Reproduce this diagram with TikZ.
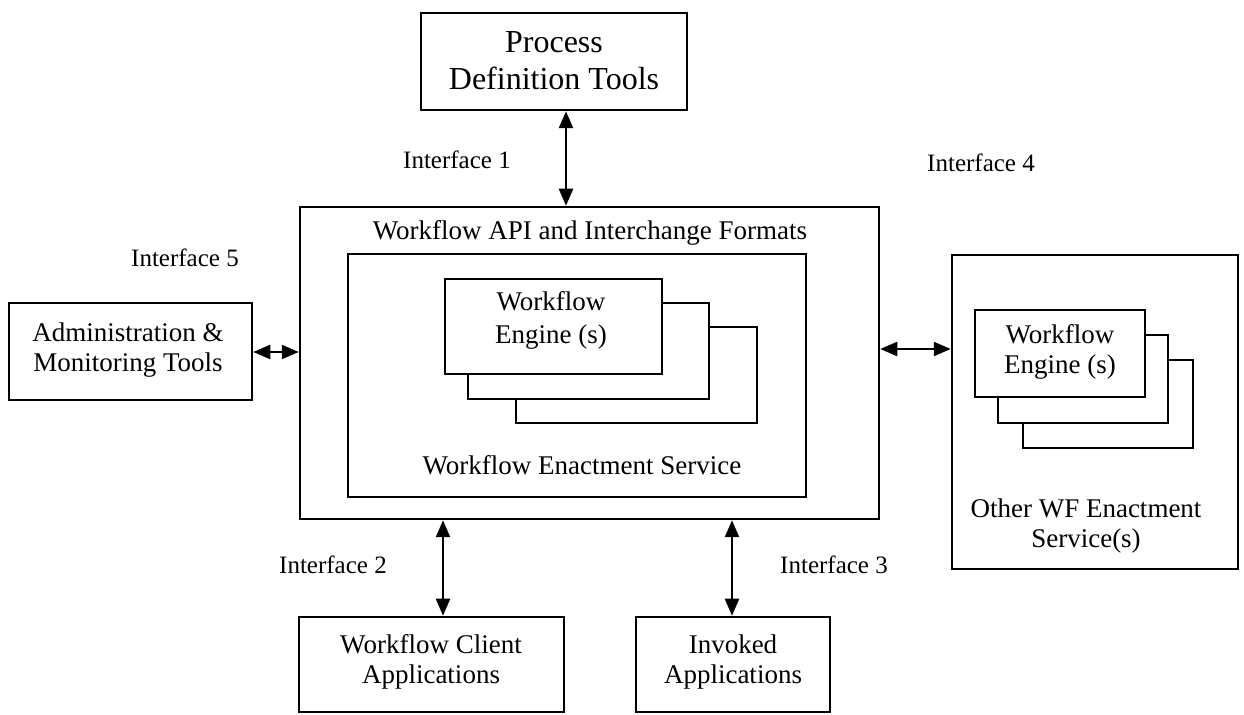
\documentclass[tikz,border=0pt]{standalone}
\usepackage{fontspec}
\setmainfont{Liberation Serif}
\usetikzlibrary{fit,arrows.meta}

\tikzset{
  box/.style={draw, line width=1.25pt, inner sep=0pt, fill=white},
  txt/.style={align=center, inner sep=0pt, font=\fontsize{13.5}{15}\selectfont},
  engtxt/.style={align=center, inner sep=0pt, font=\fontsize{13.5}{16.5}\selectfont},
  bigtxt/.style={align=center, inner sep=0pt, font=\fontsize{16}{18.5}\selectfont},
  iflabel/.style={inner sep=0pt, font=\fontsize{12.5}{14}\selectfont},
  biarrow/.style={line width=1.2pt, {Triangle[length=8.5pt,width=7pt]}-{Triangle[length=8.5pt,width=7pt]}}
}

\begin{document}
\begin{tikzpicture}[x=0.5pt,y=-0.5pt]
\useasboundingbox (0,0) rectangle (1244,715);

% process definition tools
\node[box, fit={(421,13) (687,110)}] (pdt) {};
\node[bigtxt] (pdtText) at (554,61) {Process\\Definition Tools};

% central enactment service
\node[box, fit={(300,207) (879,519)}] (main) {};
\node[txt] (apiText) at (590,233) {Workflow API and Interchange Formats};
\node[box, fit={(348,254) (806,497)}] (inner) {};
\node[txt] (wesText) at (582,465) {Workflow Enactment Service};

% stacked engines
\node[box, fit={(516,327) (757,423)}] (eng3) {};
\node[box, fit={(468,303) (709,399)}] (eng2) {};
\node[box, fit={(445,279) (662,374)}] (eng1) {};
\node[engtxt] (engText) at (551,320) {Workflow\\Engine (s)};

% administration
\node[box, fit={(9,303) (252,400)}] (admin) {};
\node[txt] (adminText) at (128,350) {Administration \&\\Monitoring Tools};

% other enactment services
\node[box, fit={(952,255) (1238,569)}] (other) {};
\node[box, fit={(1023,360) (1193,448)}] (reng3) {};
\node[box, fit={(998,335) (1168,423)}] (reng2) {};
\node[box, fit={(975,310) (1145,397)}] (reng1) {};
\node[txt] (rengText) at (1060,352) {Workflow\\Engine (s)};
\node[txt] (otherText) at (1086,526) {Other WF Enactment\\Service(s)};

% client and invoked applications
\node[box, fit={(299,617) (564,712)}] (client) {};
\node[txt] (clientText) at (431,662) {Workflow Client\\Applications};
\node[box, fit={(636,617) (830,712)}] (invoked) {};
\node[txt] (invokedText) at (733,662) {Invoked\\Applications};

% interface labels
\node[iflabel] (if1) at (457,160) {Interface 1};
\node[iflabel] (if4) at (981,163) {Interface 4};
\node[iflabel] (if5) at (185,258) {Interface 5};
\node[iflabel] (if2) at (333,565) {Interface 2};
\node[iflabel] (if3) at (834,565) {Interface 3};

% connector lines
\coordinate (c1) at (566,160);
\coordinate (c2) at (443,565);
\coordinate (c3) at (732,565);
\coordinate (c5) at (275,352);
\coordinate (c4) at (915,349);
\draw[biarrow] (c1 |- pdt.south) -- (c1 |- main.north);
\draw[biarrow] (c2 |- main.south) -- (c2 |- client.north);
\draw[biarrow] (c3 |- main.south) -- (c3 |- invoked.north);
\draw[biarrow] (c5 -| admin.east) -- (c5 -| main.west);
\draw[biarrow] (c4 -| main.east) -- (c4 -| other.west);
\end{tikzpicture}
\end{document}
